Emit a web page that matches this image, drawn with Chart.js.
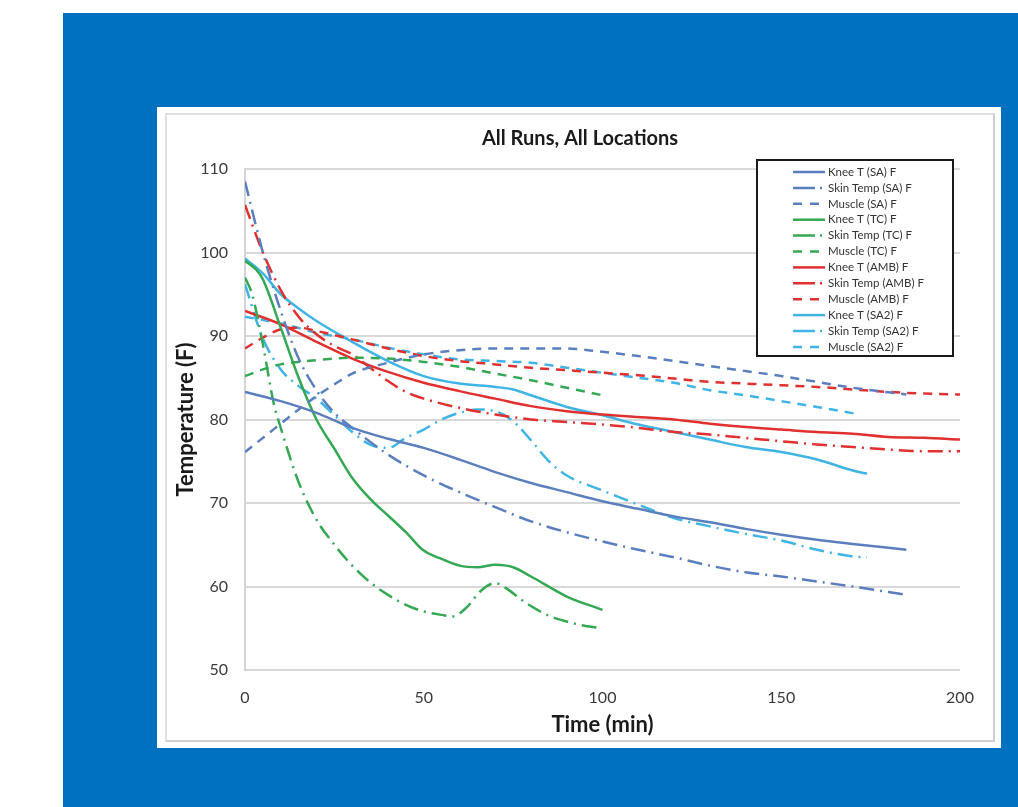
<!DOCTYPE html>
<html>
<head>
<meta charset="utf-8">
<script src="https://cdn.jsdelivr.net/npm/chart.js@4.4.1/dist/chart.umd.min.js"></script>
<style>
  html, body { margin: 0; padding: 0; background: #fff; }
  #panel { position: absolute; left: 63px; top: 13px; width: 955px; height: 794px; background: #0070c0; }
  #card { position: absolute; left: 157px; top: 107px; width: 844px; height: 641px; background: #fff; }
  #frame { position: absolute; left: 8px; top: 6px; width: 826px; height: 625px; border: 2px solid #cfcfcf; border-top-color: #e0e0e0; border-left-color: #e0e0e0; }
  #wrap { position: absolute; left: 0; top: 0; width: 826px; height: 625px; }
</style>
</head>
<body>
<div id="panel"></div>
<div id="card">
  <div id="frame">
    <div id="wrap"><canvas id="canvas"></canvas></div>
  </div>
</div>
<script>
// time in minutes, temperatures in F
var kneeSA_t = [0, 10, 20, 30, 40, 50, 60, 70, 80, 90, 100, 110, 120, 130, 140, 150, 160, 170, 185];
var kneeSA = [83.3, 82.2, 80.8, 79.0, 77.7, 76.6, 75.2, 73.7, 72.4, 71.3, 70.2, 69.3, 68.4, 67.7, 66.9, 66.2, 65.6, 65.1, 64.4];

var skinSA_t = [0, 5, 10, 15, 20, 25, 30, 40, 50, 60, 70, 80, 90, 100, 110, 120, 130, 140, 150, 160, 170, 185];
var skinSA = [108.5, 100, 93, 87.3, 83.5, 80.8, 79.0, 75.8, 73.3, 71.3, 69.5, 67.8, 66.5, 65.4, 64.4, 63.5, 62.5, 61.7, 61.2, 60.6, 60.0, 59.0];

var muscleSA_t = [0, 5, 10, 15, 20, 25, 30, 40, 50, 60, 70, 80, 90, 100, 110, 120, 130, 140, 150, 160, 170, 185];
var muscleSA = [76.1, 77.8, 79.5, 81.2, 82.8, 84.2, 85.5, 86.8, 87.8, 88.3, 88.5, 88.5, 88.5, 88.1, 87.6, 87.0, 86.4, 85.8, 85.2, 84.5, 83.8, 83.0];

var kneeTC_t = [0, 3, 5, 10, 15, 20, 25, 30, 35, 40, 45, 50, 55, 60, 65, 70, 75, 80, 90, 100];
var kneeTC = [99, 98, 96.8, 91, 85, 80, 76.5, 73, 70.5, 68.5, 66.5, 64.3, 63.3, 62.5, 62.3, 62.6, 62.3, 61.2, 58.8, 57.2];

var skinTC_t = [0, 2, 5, 8, 10, 15, 20, 25, 30, 35, 40, 45, 50, 55, 58, 62, 66, 70, 73, 78, 85, 90, 95, 100];
var skinTC = [97, 95, 89, 82, 79, 72.5, 68, 65, 62.5, 60.5, 59, 57.8, 57.0, 56.6, 56.4, 57.5, 59.5, 60.4, 59.8, 58.2, 56.5, 55.8, 55.3, 55.0];

var muscleTC_t = [0, 5, 10, 20, 30, 40, 50, 60, 70, 80, 90, 100];
var muscleTC = [85.2, 86.0, 86.6, 87.1, 87.4, 87.3, 86.9, 86.3, 85.5, 84.7, 83.8, 82.9];

var kneeAMB_t = [0, 10, 20, 30, 40, 50, 60, 70, 80, 90, 100, 110, 120, 130, 140, 150, 160, 170, 180, 190, 200];
var kneeAMB = [93, 91.4, 89.3, 87.3, 85.7, 84.4, 83.4, 82.5, 81.6, 81.0, 80.6, 80.3, 80.0, 79.5, 79.1, 78.8, 78.5, 78.3, 77.9, 77.8, 77.6];

var skinAMB_t = [0, 5, 10, 15, 20, 25, 30, 35, 40, 45, 50, 60, 70, 80, 90, 100, 110, 120, 130, 140, 150, 160, 170, 180, 190, 200];
var skinAMB = [105.7, 100, 95.5, 92.3, 90.2, 88.8, 87.8, 86.2, 84.6, 83.3, 82.5, 81.4, 80.6, 80.0, 79.7, 79.4, 79.0, 78.5, 78.2, 77.8, 77.4, 77.0, 76.7, 76.4, 76.2, 76.2];

var muscleAMB_t = [0, 5, 10, 15, 20, 30, 40, 50, 60, 70, 80, 90, 100, 110, 120, 130, 140, 150, 160, 170, 180, 190, 200];
var muscleAMB = [88.5, 89.8, 90.8, 91.0, 90.6, 89.6, 88.5, 87.6, 87.0, 86.6, 86.2, 85.9, 85.6, 85.3, 84.9, 84.5, 84.3, 84.1, 83.9, 83.6, 83.3, 83.1, 83.0];

var kneeSA2_t = [0, 5, 10, 15, 20, 30, 40, 50, 60, 70, 75, 80, 90, 100, 110, 120, 130, 140, 150, 160, 170, 174];
var kneeSA2 = [99.3, 97.5, 95, 93.3, 91.8, 89.3, 87, 85.2, 84.3, 83.9, 83.6, 82.9, 81.5, 80.5, 79.4, 78.5, 77.6, 76.7, 76.1, 75.2, 73.9, 73.5];

var skinSA2_t = [0, 5, 10, 15, 20, 25, 30, 35, 40, 45, 50, 55, 60, 65, 70, 75, 80, 85, 90, 100, 110, 120, 130, 140, 150, 160, 170, 174];
var skinSA2 = [96.2, 89.7, 86, 84, 82.5, 80.5, 78.5, 77, 76.6, 77.8, 78.8, 80, 80.8, 81.2, 81, 79.8, 77.5, 75, 73.3, 71.5, 69.8, 68.2, 67.2, 66.3, 65.5, 64.4, 63.6, 63.5];

var muscleSA2_t = [0, 10, 20, 30, 40, 50, 60, 70, 80, 90, 100, 110, 120, 130, 140, 150, 160, 172];
var muscleSA2 = [92.3, 91.5, 90.4, 89.6, 88.6, 87.8, 87.2, 87.0, 86.8, 86.2, 85.6, 85.0, 84.4, 83.5, 82.9, 82.2, 81.5, 80.6];

var xTicks = [0, 50, 100, 150, 200];
var yTicks = [50, 60, 70, 80, 90, 100, 110];

var colSA = '#5b7fbe', colTC = '#34a853', colAMB = '#e0302f', colSA2 = '#3fb4e5';
var solid = [], dashDot = [15, 6, 2, 6], dashed = [9, 7];

function pts(t, v) {
    return t.map(function (x, i) { return { x: x, y: v[i] }; });
}

function series(label, t, v, color, dash) {
    return {
        label: label,
        data: pts(t, v),
        borderColor: color,
        backgroundColor: color,
        borderWidth: 2.5,
        borderDash: dash,
        pointRadius: 0,
        fill: false,
        cubicInterpolationMode: 'monotone'
    };
}

// shorter dash patterns for the legend samples
function sampleDash(dash) {
    if (dash.length === 4) return [22, 5, 2, 20];
    if (dash.length === 2) return [9, 8];
    return [];
}

// legend box drawn inside the plot, top right
var boxLegend = {
    id: 'boxLegend',
    afterDraw: function (chart) {
        var c = chart.ctx, a = chart.chartArea;
        var left = a.left + 512, top = a.top - 9, w = 196, h = 196;
        c.save();
        c.fillStyle = '#fff';
        c.fillRect(left, top, w, h);
        c.strokeStyle = '#1a1a1a';
        c.lineWidth = 2;
        c.strokeRect(left, top, w, h);
        c.font = '11.5px Lato';
        c.textBaseline = 'middle';
        chart.data.datasets.forEach(function (ds, i) {
            var y = top + 12 + i * 15.9;
            c.strokeStyle = ds.borderColor;
            c.lineWidth = 2.5;
            c.setLineDash(sampleDash(ds.borderDash));
            c.beginPath();
            c.moveTo(left + 36, y);
            c.lineTo(left + 68, y);
            c.stroke();
            c.setLineDash([]);
            c.fillStyle = '#333';
            c.fillText(ds.label, left + 71, y);
        });
        c.restore();
    }
};

var ctx = document.getElementById('canvas').getContext('2d');

var myChart = new Chart(ctx, {
    type: 'line',
    data: {
        datasets: [
            series('Knee T (SA) F', kneeSA_t, kneeSA, colSA, solid),
            series('Skin Temp (SA) F', skinSA_t, skinSA, colSA, dashDot),
            series('Muscle (SA) F', muscleSA_t, muscleSA, colSA, dashed),
            series('Knee T (TC) F', kneeTC_t, kneeTC, colTC, solid),
            series('Skin Temp (TC) F', skinTC_t, skinTC, colTC, dashDot),
            series('Muscle (TC) F', muscleTC_t, muscleTC, colTC, dashed),
            series('Knee T (AMB) F', kneeAMB_t, kneeAMB, colAMB, solid),
            series('Skin Temp (AMB) F', skinAMB_t, skinAMB, colAMB, dashDot),
            series('Muscle (AMB) F', muscleAMB_t, muscleAMB, colAMB, dashed),
            series('Knee T (SA2) F', kneeSA2_t, kneeSA2, colSA2, solid),
            series('Skin Temp (SA2) F', skinSA2_t, skinSA2, colSA2, dashDot),
            series('Muscle (SA2) F', muscleSA2_t, muscleSA2, colSA2, dashed)
        ]
    },
    options: {
        responsive: true,
        maintainAspectRatio: false,
        animation: false,
        layout: { padding: { left: 33, right: 33, top: 0, bottom: 0 } },
        plugins: {
            legend: { display: false },
            tooltip: { enabled: false },
            title: {
                display: true,
                text: 'All Runs, All Locations',
                color: '#1a1a1a',
                font: { family: 'Lato', size: 20, weight: 'bold' },
                padding: { top: 12, bottom: 18 }
            }
        },
        scales: {
            x: {
                type: 'linear',
                min: 0,
                max: 200,
                afterFit: function (s) { s.height = 70; },
                afterBuildTicks: function (s) { s.ticks = xTicks.map(function (v) { return { value: v }; }); },
                grid: { display: false, drawTicks: false },
                border: { display: false },
                ticks: { color: '#3a3a3a', padding: 18, font: { family: 'Lato', size: 16 } },
                title: {
                    display: true,
                    text: 'Time (min)',
                    color: '#1a1a1a',
                    font: { family: 'Lato', size: 22, weight: 'bold' },
                    padding: { top: 0, bottom: 2 }
                }
            },
            y: {
                min: 50,
                max: 110,
                afterFit: function (s) { s.width = 45; },
                afterBuildTicks: function (s) { s.ticks = yTicks.map(function (v) { return { value: v }; }); },
                grid: { color: '#d9d9d9', lineWidth: 2, drawTicks: false },
                border: { color: '#d4d4d4', width: 2 },
                ticks: { color: '#3a3a3a', padding: 17, font: { family: 'Lato', size: 16 } },
                title: {
                    display: true,
                    text: 'Temperature (F)',
                    color: '#1a1a1a',
                    font: { family: 'Lato', size: 22, weight: 'bold' },
                    padding: { top: -27, bottom: 0 }
                }
            }
        }
    },
    plugins: [boxLegend]
});
</script>
</body>
</html>
